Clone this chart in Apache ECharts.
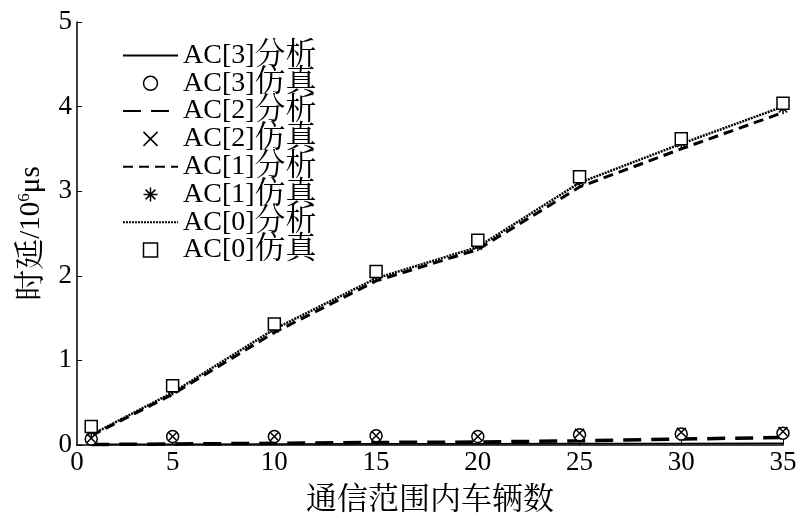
<!DOCTYPE html>
<html>
<head>
<meta charset="utf-8">
<script src="https://cdn.jsdelivr.net/npm/echarts@6/dist/echarts.min.js"></script>
<style>html,body{margin:0;padding:0;background:#fff}#c{width:800px;height:521px}</style>
</head>
<body>
<div id="c"></div>
<script>
var xs = [1, 5, 10, 15, 20, 25, 30, 35];
var seriesNames = ['AC[3]分析','AC[3]仿真','AC[2]分析','AC[2]仿真','AC[1]分析','AC[1]仿真','AC[0]分析','AC[0]仿真'];
var ac3Analysis = [0.01, 0.01, 0.012, 0.014, 0.015, 0.017, 0.018, 0.02];
var ac3Sim      = [0.07, 0.10, 0.10, 0.11, 0.10, 0.12, 0.13, 0.14];
var ac2Analysis = [0.005, 0.012, 0.02, 0.03, 0.035, 0.05, 0.07, 0.09];
var ac2Sim      = [0.08, 0.10, 0.10, 0.11, 0.10, 0.14, 0.15, 0.16];
var ac1Analysis = [0.11, 0.60, 1.33, 1.94, 2.31, 3.05, 3.50, 3.93];
var ac1Sim      = [0.16, 0.66, 1.38, 2.00, 2.36, 3.12, 3.57, 3.98];
var ac0Analysis = [0.12, 0.62, 1.37, 1.97, 2.34, 3.10, 3.56, 4.00];
var ac0Sim      = [0.22, 0.70, 1.43, 2.05, 2.42, 3.17, 3.62, 4.04];
var xTickValues = [5, 10, 15, 20, 25, 30, 35];
var xLabelValues = [0.3, 5, 10, 15, 20, 25, 30, 35];
var xLabelTexts = ['0', '5', '10', '15', '20', '25', '30', '35'];
var yTicks = [0, 1, 2, 3, 4, 5];

function pairs(v){ return xs.map(function(x,i){ return [x, v[i]]; }); }
var FONT = '"Liberation Serif", "Noto Serif CJK SC", "Noto Sans CJK SC", serif';
var crossPath = 'path://M0,0L10,10M10,0L0,10';
var starPath = 'path://M5,0L5,10M0,5L10,5M1.5,1.5L8.5,8.5M8.5,1.5L1.5,8.5';
var squarePath = 'path://M0,0L10,0L10,10L0,10Z';
var circlePath = 'path://M10,5A5,5,0,1,1,0,5A5,5,0,1,1,10,5Z';

function lineS(name, data, type, width){
  return {name:name, type:'line', data:pairs(data), symbol:'none', z:2,
    lineStyle:{color:'#000', width:width, type:type}, itemStyle:{color:'#000'}};
}
function scatS(name, data, symbol, size){
  return {name:name, type:'scatter', data:pairs(data), symbol:symbol, symbolSize:size, z:5,
    itemStyle:{color:'#fff', borderColor:'#000', borderWidth:1.5, opacity:1}};
}

var legendData = seriesNames.map(function(n, i){
  if (i % 2 === 0) {
    return {name:n, itemStyle:{opacity:0, color:'transparent', borderColor:'transparent'}};
  }
  var icons = [circlePath, crossPath, starPath, squarePath];
  return {name:n, icon:icons[(i-1)/2], itemStyle:{color:'#fff', borderColor:'#000', borderWidth:1.5}};
});

var chart = echarts.init(document.getElementById('c'), null, {renderer:'canvas'});
chart.setOption({
  animation:false,
  backgroundColor:'#fff',
  textStyle:{fontFamily:FONT, color:'#000'},
  grid:{left:77, right:17, top:22, bottom:61},
  legend:{
    orient:'vertical', left:117, top:35, itemGap:-3.2, itemWidth:55, itemHeight:14,
    data:legendData,
    formatter:function(n){ return '{a|' + n.slice(0,5) + '}{b|' + n.slice(5) + '}'; },
    textStyle:{fontFamily:FONT, color:'#000',
      rich:{a:{fontFamily:FONT, fontSize:28, color:'#000'},
            b:{fontFamily:FONT, fontSize:31, color:'#000'}}}
  },
  xAxis:{
    type:'value', min:0.3, max:35,
    name:'通信范围内车辆数', nameLocation:'middle', nameGap:40,
    nameTextStyle:{fontFamily:FONT, fontSize:31, color:'#000'},
    axisLine:{lineStyle:{color:'#000', width:1.5}},
    axisTick:{inside:true, length:5, lineStyle:{color:'#000'}, customValues:xTickValues},
    axisLabel:{fontFamily:FONT, fontSize:27, color:'#000', margin:4, customValues:xLabelValues,
      formatter:function(v){ var k = xLabelValues.indexOf(v); return k >= 0 ? xLabelTexts[k] : ''; }},
    splitLine:{show:false}
  },
  yAxis:{
    type:'value', min:0, max:5, interval:1,
    name:'{c|时延}{l|/10}{sup|6}{l|μs}', nameLocation:'middle', nameGap:30,
    nameTextStyle:{fontFamily:FONT, fontSize:28, color:'#000',
      rich:{c:{fontFamily:FONT, fontSize:31}, l:{fontFamily:FONT, fontSize:29},
            sup:{fontFamily:FONT, fontSize:17, verticalAlign:'top', padding:[0,0,12,0]}}},
    axisLine:{show:true, lineStyle:{color:'#000', width:1.5}},
    axisTick:{show:true, inside:true, length:5, lineStyle:{color:'#000'}},
    axisLabel:{fontFamily:FONT, fontSize:27, color:'#000', margin:5,
      formatter:function(v){ return yTicks.indexOf(v) >= 0 ? String(v) : ''; }},
    splitLine:{show:false}
  },
  series:[
    lineS(seriesNames[0], ac3Analysis, 'solid', 1.5),
    scatS(seriesNames[1], ac3Sim, 'circle', 12),
    lineS(seriesNames[2], ac2Analysis, [18,10], 3.5),
    scatS(seriesNames[3], ac2Sim, crossPath, 9),
    lineS(seriesNames[4], ac1Analysis, [10,6], 3),
    scatS(seriesNames[5], ac1Sim, starPath, 12),
    lineS(seriesNames[6], ac0Analysis, [2,1], 2.5),
    scatS(seriesNames[7], ac0Sim, squarePath, 12)
  ]
});
</script>
</body>
</html>
